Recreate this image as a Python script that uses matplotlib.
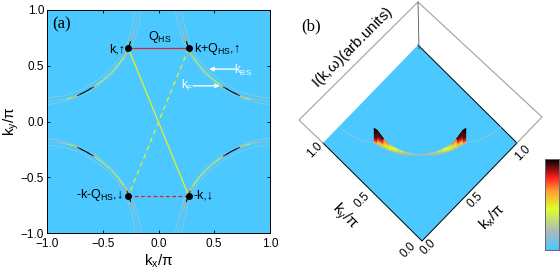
import numpy as np
import matplotlib
matplotlib.use('Agg')
import matplotlib.pyplot as plt
from matplotlib.collections import LineCollection, PolyCollection
from matplotlib.colors import LinearSegmentedColormap

plt.rcParams['font.family'] = ['Liberation Sans', 'DejaVu Sans']
plt.rcParams['mathtext.fontset'] = 'custom'
plt.rcParams['mathtext.rm'] = 'Liberation Sans'
plt.rcParams['mathtext.default'] = 'regular'

BG = '#4AC8FF'
cmap = LinearSegmentedColormap.from_list('arpes', [
    (0.0, BG), (0.2, '#A9BBBE'), (0.45, '#DDFF2A'), (0.65, '#FFA030'),
    (0.8, '#FF1E1E'), (1.0, '#000000')])

# Fermi arc in the first quadrant
kf_x = [0.18, 0.195, 0.215, 0.235, 0.25, 0.27, 0.285, 0.31, 0.36, 0.42, 0.50, 0.56, 0.58,
        0.60, 0.65, 0.71, 0.73, 0.77, 0.83, 0.90, 1.00]
kf_y = [1.00, 0.92, 0.82, 0.75, 0.72, 0.65, 0.62, 0.58, 0.51, 0.44, 0.37, 0.325, 0.31,
        0.30, 0.27, 0.24, 0.23, 0.215, 0.20, 0.19, 0.18]
kf_w = [0.10, 0.10, 0.14, 0.30, 1.00, 1.00, 0.75, 0.42, 0.38, 0.35, 0.35, 0.42, 0.75,
        1.00, 1.00, 1.00, 0.75, 0.42, 0.28, 0.14, 0.10]

# pale shadow arcs
bs1_x = [0.15, 0.17, 0.20, 0.245, 0.32, 0.42, 0.55, 0.66, 0.78, 0.90, 1.00]
bs1_y = [1.00, 0.90, 0.78, 0.66, 0.54, 0.42, 0.31, 0.25, 0.20, 0.165, 0.15]
bs2_x = [0.21, 0.23, 0.26, 0.30, 0.36, 0.46, 0.58, 0.70, 0.85, 1.00]
bs2_y = [1.00, 0.88, 0.76, 0.65, 0.55, 0.44, 0.35, 0.28, 0.23, 0.21]

# floor arc of panel (b), half up to the diagonal
arc_kx = [0.163, 0.181, 0.206, 0.263, 0.314, 0.36, 0.40, 0.44]
arc_ky = [1.00, 0.911, 0.824, 0.737, 0.594, 0.52, 0.48, 0.44]

# hot spot heights for panel (b)
fin_kx = [0.263, 0.27, 0.285, 0.30, 0.314, 0.33, 0.36, 0.40, 0.44]
fin_ky = [0.737, 0.71, 0.66, 0.62, 0.594, 0.565, 0.52, 0.48, 0.44]
fin_z = [0.32, 0.31, 0.20, 0.13, 0.11, 0.09, 0.055, 0.025, 0.0]

xticks = [-1.0, -0.5, 0.0, 0.5, 1.0]
hs_x, hs_top, hs_bot = 0.27, 0.655, 0.665

fig = plt.figure(figsize=(5.6, 2.77), dpi=100)

# panel (a)
ax = fig.add_axes([47 / 560, 44 / 277, 223 / 560, 223 / 277], facecolor=BG)
for sx in (1, -1):
    for sy in (1, -1):
        ax.plot(sx * np.array(bs1_x), sy * np.array(bs1_y), color='#84CCE2', lw=0.6)
        ax.plot(sx * np.array(bs2_x), sy * np.array(bs2_y), color='#84CCE2', lw=0.6)
        px = sx * np.array(kf_x)
        py = sy * np.array(kf_y)
        pts = np.column_stack([px, py]).reshape(-1, 1, 2)
        segs = np.concatenate([pts[:-1], pts[1:]], axis=1)
        w = (np.array(kf_w[:-1]) + np.array(kf_w[1:])) / 2
        ax.add_collection(LineCollection(segs, colors=cmap(w), linewidths=0.8))

ax.plot([-hs_x, hs_x], [hs_top, -hs_bot], color='#E8F020', lw=0.9)
ax.plot([hs_x, -hs_x], [hs_top, -hs_bot], color='#E8F020', lw=0.9, ls=(0, (4, 3)))
ax.plot([-hs_x, hs_x], [hs_top, hs_top], color='#E0202A', lw=0.9)
ax.plot([-hs_x, hs_x], [-hs_bot, -hs_bot], color='#E0202A', lw=0.9, ls=(0, (3, 2)))
ax.plot([-hs_x, hs_x, -hs_x, hs_x], [hs_top, hs_top, -hs_bot, -hs_bot], 'o', color='k', ms=4, ls='none')

ax.annotate('', xy=(0.455, 0.47), xytext=(0.69, 0.47),
            arrowprops=dict(arrowstyle='-|>', color='white', lw=1, mutation_scale=6, shrinkA=0, shrinkB=0))
ax.annotate('', xy=(0.55, 0.32), xytext=(0.31, 0.32),
            arrowprops=dict(arrowstyle='-|>', color='white', lw=1, mutation_scale=6, shrinkA=0, shrinkB=0))
ax.text(0.76, 0.455, r'k$_{BS}$', color='white', fontsize=8.5, ha='center', va='center')
ax.text(0.26, 0.325, r'k$_{F}$', color='white', fontsize=8.5, ha='center', va='center')
ax.text(0.01, 0.755, r'Q$_{HS}$', fontsize=9, ha='center', va='center')
ax.text(-0.30, 0.65, 'k,↑', fontsize=9, ha='right', va='center')
ax.text(0.32, 0.65, r'k+Q$_{HS}$,↑', fontsize=9, ha='left', va='center')
ax.text(-0.32, -0.66, r'-k-Q$_{HS}$,↓', fontsize=9, ha='right', va='center')
ax.text(0.31, -0.66, '-k,↓', fontsize=9, ha='left', va='center')
ax.text(-0.865, 0.87, '(a)', fontsize=12, family='Liberation Serif', ha='center', va='center')

ax.set_xlim(-1, 1)
ax.set_ylim(-1, 1)
ax.set_xticks(xticks)
ax.set_yticks(xticks)
ax.tick_params(direction='in', top=True, right=True, length=2, width=0.6, labelsize=8.5, pad=2)
ax.tick_params(axis='x', pad=3.5)
for s in ax.spines.values():
    s.set_linewidth(0.7)
ax.set_xlabel(r'k$_{x}$/$\pi$', fontsize=11, labelpad=2)
ax.set_ylabel(r'k$_{y}$/$\pi$', fontsize=11, labelpad=0)

# panel (b), drawn on a pixel-sized overlay
bx = fig.add_axes([0, 0, 1, 1], facecolor='none')
bx.set_xlim(0, 560)
bx.set_ylim(277, 0)
bx.axis('off')


def project(kx, ky, z=0.0):
    kx, ky, z = np.asarray(kx), np.asarray(ky), np.asarray(z)
    return 422 + 95 * kx - 99 * ky, 241 - 98 * kx - 98 * ky - 47 * z


dx, dy = project([0, 1, 1, 0, 0], [0, 0, 1, 1, 0])
bx.fill(dx, dy, color=BG, lw=0)
bx.plot(dx[[3, 0, 1, 2]], dy[[3, 0, 1, 2]], color='k', lw=0.7)

# back box of the 3d frame
bx.plot([323, 299, 418, 542, 517], [143, 120, 2, 117, 143], color='#A0A0A0', lw=0.8)
bx.plot([418, 419], [2, 49], color='#555555', lw=0.6)

# pale arc on the floor, both halves, stronger between the two hot spots
full_kx = np.array(arc_kx + arc_ky[::-1][1:])
full_ky = np.array(arc_ky + arc_kx[::-1][1:])
ax_f, ay_f = project(full_kx, full_ky)
bx.plot(ax_f, ay_f, color='#84C8DC', lw=0.7)
bx.plot(ax_f[3:-3], ay_f[3:-3], color='#A8BCA8', lw=0.9)

# fins: each column between two arc points cut into colour bands
levels = np.linspace(0, 0.32, 25)
for kx, ky in ((fin_kx, fin_ky), (fin_ky, fin_kx)):
    polys, cols = [], []
    for i in range(len(kx) - 1):
        z0, z1 = fin_z[i], fin_z[i + 1]
        for lo, hi in zip(levels[:-1], levels[1:]):
            if lo >= max(z0, z1):
                continue
            x0, y0 = project(kx[i], ky[i], min(lo, z0))
            x1, y1 = project(kx[i + 1], ky[i + 1], min(lo, z1))
            x2, y2 = project(kx[i + 1], ky[i + 1], min(hi, z1))
            x3, y3 = project(kx[i], ky[i], min(hi, z0))
            polys.append([(x0, y0), (x1, y1), (x2, y2), (x3, y3)])
            ym = (y0 + y1 + y2 + y3) / 4
            cols.append(cmap(np.interp(ym, [128, 138, 141, 144, 150, 154], [1.0, 0.92, 0.78, 0.55, 0.42, 0.2])))
    bx.add_collection(PolyCollection(polys, facecolors=cols, edgecolors=cols, linewidths=0.25))

bx.text(353, 47, r'I(k,$\omega$)(arb.units)', fontsize=11, rotation=45, ha='center', va='center',
        rotation_mode='anchor')
bx.text(311, 26, '(b)', fontsize=12, family='Liberation Serif', ha='center', va='center')

left_ticks = [(1.0, 315, 150), (0.5, 362, 200), (0.0, 408, 250)]
right_ticks = [(1.0, 523, 153), (0.5, 475, 200), (0.0, 428, 247)]
for val, x, y in left_ticks + right_ticks:
    bx.text(x, y, f'{val:.1f}', fontsize=8.5, rotation=45, ha='center', va='center', rotation_mode='anchor')
bx.text(344, 217, r'k$_{y}$/$\pi$', fontsize=11, rotation=-45, ha='center', va='center', rotation_mode='anchor')
bx.text(492, 217, r'k$_{x}$/$\pi$', fontsize=11, rotation=45, ha='center', va='center', rotation_mode='anchor')

# colour scale
cax = fig.add_axes([545 / 560, 27 / 277, 14 / 560, 91 / 277])
cax.imshow(np.linspace(1, 0, 128).reshape(-1, 1), cmap=cmap, aspect='auto')
cax.set_xticks([])
cax.set_yticks([])
for s in cax.spines.values():
    s.set_color('#666666')
    s.set_linewidth(0.7)

fig.savefig('out.png', dpi=100)
